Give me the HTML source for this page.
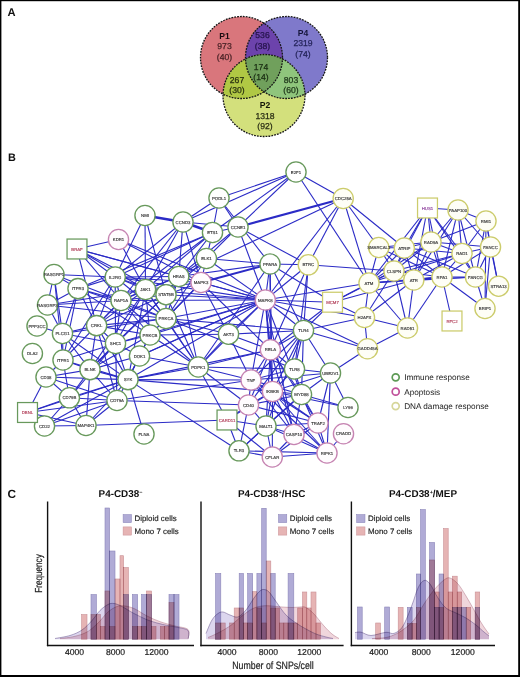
<!DOCTYPE html><html><head><meta charset="utf-8"><style>html,body{margin:0;padding:0;background:#fff}svg{display:block}text{font-family:"Liberation Sans",sans-serif;text-rendering:geometricPrecision}</style></head><body>
<svg width="520" height="677" viewBox="0 0 520 677">
<rect x="0" y="0" width="520" height="677" fill="#fff"/>
<defs>
<clipPath id="c1"><circle cx="241.5" cy="57.5" r="41"/></clipPath>
<clipPath id="c4"><circle cx="286.5" cy="57.5" r="41"/></clipPath>
<clipPath id="c2"><circle cx="264" cy="95.5" r="41"/></clipPath>
</defs>
<circle cx="241.5" cy="57.5" r="41" fill="#d9767c"/>
<circle cx="286.5" cy="57.5" r="41" fill="#7f79cb"/>
<circle cx="264" cy="95.5" r="41" fill="#d3e07c"/>
<g clip-path="url(#c1)"><circle cx="286.5" cy="57.5" r="41" fill="#6c43ac"/></g>
<g clip-path="url(#c1)"><circle cx="264" cy="95.5" r="41" fill="#b0c844"/></g>
<g clip-path="url(#c4)"><circle cx="264" cy="95.5" r="41" fill="#8fc57c"/></g>
<g clip-path="url(#c1)"><g clip-path="url(#c4)"><circle cx="264" cy="95.5" r="41" fill="#70a05c"/></g></g>
<circle cx="241.5" cy="57.5" r="41" fill="none" stroke="#161616" stroke-width="1.3" stroke-dasharray="1.8 1.1"/>
<circle cx="286.5" cy="57.5" r="41" fill="none" stroke="#161616" stroke-width="1.3" stroke-dasharray="1.8 1.1"/>
<circle cx="264" cy="95.5" r="41" fill="none" stroke="#161616" stroke-width="1.3" stroke-dasharray="1.8 1.1"/>
<text x="224.5" y="39" font-size="8.6" text-anchor="middle" fill="#1a0c10" font-weight="bold">P1</text>
<text x="224.5" y="49" font-size="8.6" text-anchor="middle" fill="#4a2226" stroke="#4a2226" stroke-width="0.25">973</text>
<text x="224.5" y="59.5" font-size="8.6" text-anchor="middle" fill="#4a2226" stroke="#4a2226" stroke-width="0.25">(40)</text>
<text x="303" y="36" font-size="8.6" text-anchor="middle" fill="#14143a" font-weight="bold">P4</text>
<text x="303" y="46" font-size="8.6" text-anchor="middle" fill="#24245a" stroke="#24245a" stroke-width="0.25">2319</text>
<text x="303" y="56.5" font-size="8.6" text-anchor="middle" fill="#24245a" stroke="#24245a" stroke-width="0.25">(74)</text>
<text x="262.5" y="38" font-size="8.6" text-anchor="middle" fill="#24124a" stroke="#24124a" stroke-width="0.25">536</text>
<text x="262.5" y="48.5" font-size="8.6" text-anchor="middle" fill="#24124a" stroke="#24124a" stroke-width="0.25">(38)</text>
<text x="261" y="69.5" font-size="8.6" text-anchor="middle" fill="#1c3014" stroke="#1c3014" stroke-width="0.25">174</text>
<text x="261" y="80" font-size="8.6" text-anchor="middle" fill="#1c3014" stroke="#1c3014" stroke-width="0.25">(14)</text>
<text x="237" y="82.5" font-size="8.6" text-anchor="middle" fill="#283010" stroke="#283010" stroke-width="0.25">267</text>
<text x="237" y="93" font-size="8.6" text-anchor="middle" fill="#283010" stroke="#283010" stroke-width="0.25">(30)</text>
<text x="291" y="82.5" font-size="8.6" text-anchor="middle" fill="#1c3418" stroke="#1c3418" stroke-width="0.25">803</text>
<text x="291" y="93" font-size="8.6" text-anchor="middle" fill="#1c3418" stroke="#1c3418" stroke-width="0.25">(60)</text>
<text x="265" y="107.5" font-size="8.6" text-anchor="middle" fill="#141808" font-weight="bold">P2</text>
<text x="265" y="118.5" font-size="8.6" text-anchor="middle" fill="#2a2e14" stroke="#2a2e14" stroke-width="0.25">1318</text>
<text x="265" y="129" font-size="8.6" text-anchor="middle" fill="#2a2e14" stroke="#2a2e14" stroke-width="0.25">(92)</text>
<text x="7.5" y="15.7" font-size="11.2" font-weight="bold" fill="#111">A</text>
<text x="7.9" y="160.8" font-size="10.9" font-weight="bold" fill="#111">B</text>
<text x="7.6" y="497.5" font-size="11.8" font-weight="bold" fill="#111">C</text>
<g stroke="#2b2bc6" stroke-width="1.1" stroke-linecap="butt" fill="none">
<line x1="77" y1="249" x2="118.5" y2="239.5"/>
<line x1="77" y1="249" x2="178.75" y2="276.5"/>
<line x1="77" y1="249" x2="201" y2="282.5"/>
<line x1="77" y1="249" x2="115.2" y2="277"/>
<line x1="77" y1="249" x2="145.5" y2="289.5"/>
<line x1="77" y1="249" x2="166" y2="294.7"/>
<line x1="77" y1="249" x2="96.6" y2="325.6"/>
<line x1="77" y1="249" x2="121" y2="300.5"/>
<line x1="118.5" y1="239.5" x2="201" y2="282.5"/>
<line x1="118.5" y1="239.5" x2="265.3" y2="300"/>
<line x1="118.5" y1="239.5" x2="145.5" y2="289.5"/>
<line x1="145" y1="215.5" x2="183" y2="222" stroke-width="2.4"/>
<line x1="145" y1="215.5" x2="115.2" y2="277"/>
<line x1="145" y1="215.5" x2="145.5" y2="289.5"/>
<line x1="145" y1="215.5" x2="166" y2="294.7"/>
<line x1="183" y1="222" x2="212.5" y2="232.5" stroke-width="2.4"/>
<line x1="183" y1="222" x2="296" y2="172"/>
<line x1="183" y1="222" x2="121" y2="300.5"/>
<line x1="183" y1="222" x2="145.5" y2="289.5"/>
<line x1="183" y1="222" x2="178.75" y2="276.5"/>
<line x1="183" y1="222" x2="201" y2="282.5"/>
<line x1="183" y1="222" x2="238" y2="227"/>
<line x1="183" y1="222" x2="115.2" y2="277"/>
<line x1="219" y1="198" x2="296" y2="172"/>
<line x1="219" y1="198" x2="183" y2="222"/>
<line x1="219" y1="198" x2="212.5" y2="232.5"/>
<line x1="219" y1="198" x2="238" y2="227"/>
<line x1="219" y1="198" x2="270" y2="264"/>
<line x1="212.5" y1="232.5" x2="238" y2="227"/>
<line x1="212.5" y1="232.5" x2="115.2" y2="277"/>
<line x1="212.5" y1="232.5" x2="78" y2="288.6"/>
<line x1="212.5" y1="232.5" x2="145.5" y2="289.5"/>
<line x1="212.5" y1="232.5" x2="121" y2="300.5"/>
<line x1="212.5" y1="232.5" x2="178.75" y2="276.5"/>
<line x1="212.5" y1="232.5" x2="206.4" y2="258.5"/>
<line x1="212.5" y1="232.5" x2="296" y2="172"/>
<line x1="238" y1="227" x2="296" y2="172"/>
<line x1="238" y1="227" x2="343.2" y2="198.5" stroke-width="2.2"/>
<line x1="238" y1="227" x2="308.3" y2="264.8"/>
<line x1="238" y1="227" x2="265.3" y2="300"/>
<line x1="238" y1="227" x2="206.4" y2="258.5"/>
<line x1="238" y1="227" x2="178.75" y2="276.5"/>
<line x1="296" y1="172" x2="343.2" y2="198.5"/>
<line x1="296" y1="172" x2="369" y2="283"/>
<line x1="343.2" y1="198.5" x2="178.75" y2="276.5"/>
<line x1="343.2" y1="198.5" x2="308.3" y2="264.8"/>
<line x1="343.2" y1="198.5" x2="265.3" y2="300"/>
<line x1="343.2" y1="198.5" x2="369" y2="283"/>
<line x1="343.2" y1="198.5" x2="404.3" y2="248"/>
<line x1="343.2" y1="198.5" x2="378.75" y2="247.5"/>
<line x1="206.4" y1="258.5" x2="201" y2="282.5"/>
<line x1="206.4" y1="258.5" x2="270" y2="264"/>
<line x1="206.4" y1="258.5" x2="265.3" y2="300"/>
<line x1="206.4" y1="258.5" x2="178.75" y2="276.5"/>
<line x1="206.4" y1="258.5" x2="166" y2="294.7"/>
<line x1="201" y1="282.5" x2="270" y2="264" stroke-width="2.0"/>
<line x1="201" y1="282.5" x2="265.3" y2="300"/>
<line x1="201" y1="282.5" x2="270.4" y2="349.8"/>
<line x1="201" y1="282.5" x2="228.5" y2="334.2"/>
<line x1="201" y1="282.5" x2="178.75" y2="276.5"/>
<line x1="201" y1="282.5" x2="166" y2="294.7"/>
<line x1="201" y1="282.5" x2="145.5" y2="289.5"/>
<line x1="201" y1="282.5" x2="115.2" y2="277"/>
<line x1="201" y1="282.5" x2="166" y2="318.5"/>
<line x1="178.75" y1="276.5" x2="166" y2="294.7"/>
<line x1="178.75" y1="276.5" x2="145.5" y2="289.5"/>
<line x1="178.75" y1="276.5" x2="115.2" y2="277"/>
<line x1="178.75" y1="276.5" x2="121" y2="300.5"/>
<line x1="178.75" y1="276.5" x2="265.3" y2="300"/>
<line x1="178.75" y1="276.5" x2="166" y2="318.5"/>
<line x1="178.75" y1="276.5" x2="270" y2="264"/>
<line x1="265.3" y1="300" x2="115.2" y2="277"/>
<line x1="265.3" y1="300" x2="145.5" y2="289.5"/>
<line x1="265.3" y1="300" x2="121" y2="300.5"/>
<line x1="265.3" y1="300" x2="166" y2="318.5"/>
<line x1="265.3" y1="300" x2="115.5" y2="343.5"/>
<line x1="265.3" y1="300" x2="139.5" y2="356"/>
<line x1="265.3" y1="300" x2="198.3" y2="367"/>
<line x1="265.3" y1="300" x2="251" y2="380"/>
<line x1="265.3" y1="300" x2="270.4" y2="349.8"/>
<line x1="265.3" y1="300" x2="272.5" y2="391.5"/>
<line x1="265.3" y1="300" x2="294" y2="434.5"/>
<line x1="265.3" y1="300" x2="301.5" y2="394.5"/>
<line x1="265.3" y1="300" x2="303.5" y2="330.5"/>
<line x1="265.3" y1="300" x2="367.5" y2="348.75"/>
<line x1="265.3" y1="300" x2="364.5" y2="317.5"/>
<line x1="265.3" y1="300" x2="369" y2="283"/>
<line x1="265.3" y1="300" x2="308.3" y2="264.8"/>
<line x1="265.3" y1="300" x2="270" y2="264"/>
<line x1="265.3" y1="300" x2="332.5" y2="302.2"/>
<line x1="265.3" y1="300" x2="166" y2="294.7"/>
<line x1="115.2" y1="277" x2="54" y2="274.5"/>
<line x1="115.2" y1="277" x2="78" y2="288.6"/>
<line x1="115.2" y1="277" x2="121" y2="300.5"/>
<line x1="115.2" y1="277" x2="145.5" y2="289.5"/>
<line x1="115.2" y1="277" x2="166" y2="294.7"/>
<line x1="115.2" y1="277" x2="166" y2="318.5"/>
<line x1="115.2" y1="277" x2="63" y2="360"/>
<line x1="115.2" y1="277" x2="96.6" y2="325.6"/>
<line x1="121" y1="300.5" x2="78" y2="288.6"/>
<line x1="121" y1="300.5" x2="54" y2="274.5"/>
<line x1="121" y1="300.5" x2="47.5" y2="305"/>
<line x1="121" y1="300.5" x2="96.6" y2="325.6"/>
<line x1="121" y1="300.5" x2="166" y2="294.7"/>
<line x1="121" y1="300.5" x2="166" y2="318.5"/>
<line x1="121" y1="300.5" x2="145.5" y2="289.5"/>
<line x1="121" y1="300.5" x2="115.5" y2="343.5"/>
<line x1="145.5" y1="289.5" x2="166" y2="294.7"/>
<line x1="145.5" y1="289.5" x2="166" y2="318.5"/>
<line x1="145.5" y1="289.5" x2="128" y2="379.6"/>
<line x1="145.5" y1="289.5" x2="115.5" y2="343.5"/>
<line x1="145.5" y1="289.5" x2="96.6" y2="325.6"/>
<line x1="145.5" y1="289.5" x2="90" y2="369.6"/>
<line x1="54" y1="274.5" x2="78" y2="288.6"/>
<line x1="54" y1="274.5" x2="47.5" y2="305"/>
<line x1="54" y1="274.5" x2="62.5" y2="333.5"/>
<line x1="54" y1="274.5" x2="63" y2="360"/>
<line x1="78" y1="288.6" x2="47.5" y2="305"/>
<line x1="78" y1="288.6" x2="62.5" y2="333.5"/>
<line x1="78" y1="288.6" x2="63" y2="360"/>
<line x1="78" y1="288.6" x2="96.6" y2="325.6"/>
<line x1="78" y1="288.6" x2="150" y2="335"/>
<line x1="47.5" y1="305" x2="62.5" y2="333.5"/>
<line x1="37" y1="326" x2="62.5" y2="333.5"/>
<line x1="47.5" y1="305" x2="166" y2="318.5"/>
<line x1="47.5" y1="305" x2="145.5" y2="289.5"/>
<line x1="62.5" y1="333.5" x2="96.6" y2="325.6"/>
<line x1="62.5" y1="333.5" x2="115.5" y2="343.5"/>
<line x1="62.5" y1="333.5" x2="90" y2="369.6"/>
<line x1="62.5" y1="333.5" x2="128" y2="379.6"/>
<line x1="62.5" y1="333.5" x2="63" y2="360"/>
<line x1="62.5" y1="333.5" x2="166" y2="318.5"/>
<line x1="96.6" y1="325.6" x2="121" y2="300.5"/>
<line x1="96.6" y1="325.6" x2="166" y2="318.5"/>
<line x1="96.6" y1="325.6" x2="150" y2="335"/>
<line x1="96.6" y1="325.6" x2="115.5" y2="343.5"/>
<line x1="96.6" y1="325.6" x2="90" y2="369.6"/>
<line x1="96.6" y1="325.6" x2="128" y2="379.6"/>
<line x1="96.6" y1="325.6" x2="63" y2="360"/>
<line x1="96.6" y1="325.6" x2="117" y2="400.5"/>
<line x1="115.5" y1="343.5" x2="166" y2="294.7"/>
<line x1="115.5" y1="343.5" x2="63" y2="360"/>
<line x1="115.5" y1="343.5" x2="90" y2="369.6"/>
<line x1="115.5" y1="343.5" x2="128" y2="379.6"/>
<line x1="115.5" y1="343.5" x2="117" y2="400.5"/>
<line x1="115.5" y1="343.5" x2="150" y2="335"/>
<line x1="115.5" y1="343.5" x2="115.2" y2="277"/>
<line x1="63" y1="360" x2="90" y2="369.6"/>
<line x1="63" y1="360" x2="128" y2="379.6"/>
<line x1="63" y1="360" x2="46" y2="377"/>
<line x1="63" y1="360" x2="69.4" y2="397.8"/>
<line x1="90" y1="369.6" x2="128" y2="379.6"/>
<line x1="90" y1="369.6" x2="117" y2="400.5"/>
<line x1="90" y1="369.6" x2="69.4" y2="397.8"/>
<line x1="90" y1="369.6" x2="86" y2="425.5"/>
<line x1="90" y1="369.6" x2="139.5" y2="356"/>
<line x1="90" y1="369.6" x2="150" y2="335"/>
<line x1="166" y1="294.7" x2="166" y2="318.5"/>
<line x1="166" y1="294.7" x2="178.75" y2="276.5"/>
<line x1="166" y1="294.7" x2="90" y2="369.6"/>
<line x1="166" y1="294.7" x2="96.6" y2="325.6"/>
<line x1="166" y1="318.5" x2="201" y2="282.5"/>
<line x1="166" y1="318.5" x2="206.4" y2="258.5"/>
<line x1="166" y1="318.5" x2="303.5" y2="330.5"/>
<line x1="166" y1="318.5" x2="294.5" y2="369"/>
<line x1="166" y1="318.5" x2="198.3" y2="367"/>
<line x1="166" y1="318.5" x2="150" y2="335"/>
<line x1="166" y1="318.5" x2="78" y2="288.6"/>
<line x1="166" y1="318.5" x2="228.5" y2="334.2"/>
<line x1="150" y1="335" x2="265.3" y2="300"/>
<line x1="150" y1="335" x2="228.5" y2="334.2"/>
<line x1="150" y1="335" x2="198.3" y2="367"/>
<line x1="150" y1="335" x2="139.5" y2="356"/>
<line x1="150" y1="335" x2="128" y2="379.6"/>
<line x1="150" y1="335" x2="145.5" y2="289.5"/>
<line x1="150" y1="335" x2="121" y2="300.5"/>
<line x1="139.5" y1="356" x2="265.3" y2="300"/>
<line x1="139.5" y1="356" x2="198.3" y2="367"/>
<line x1="139.5" y1="356" x2="115.5" y2="343.5"/>
<line x1="139.5" y1="356" x2="128" y2="379.6"/>
<line x1="46" y1="377" x2="128" y2="379.6"/>
<line x1="46" y1="377" x2="90" y2="369.6"/>
<line x1="46" y1="377" x2="69.4" y2="397.8"/>
<line x1="46" y1="377" x2="27.5" y2="412.5"/>
<line x1="46" y1="377" x2="117" y2="400.5"/>
<line x1="69.4" y1="397.8" x2="128" y2="379.6"/>
<line x1="69.4" y1="397.8" x2="117" y2="400.5"/>
<line x1="69.4" y1="397.8" x2="27.5" y2="412.5"/>
<line x1="69.4" y1="397.8" x2="44.5" y2="426"/>
<line x1="69.4" y1="397.8" x2="86" y2="425.5"/>
<line x1="69.4" y1="397.8" x2="115.5" y2="343.5"/>
<line x1="117" y1="400.5" x2="128" y2="379.6"/>
<line x1="117" y1="400.5" x2="44.5" y2="426"/>
<line x1="117" y1="400.5" x2="27.5" y2="412.5"/>
<line x1="117" y1="400.5" x2="86" y2="425.5"/>
<line x1="117" y1="400.5" x2="248.5" y2="405"/>
<line x1="117" y1="400.5" x2="251" y2="380"/>
<line x1="27.5" y1="412.5" x2="128" y2="379.6"/>
<line x1="27.5" y1="412.5" x2="86" y2="425.5"/>
<line x1="27.5" y1="412.5" x2="44.5" y2="426"/>
<line x1="44.5" y1="426" x2="128" y2="379.6"/>
<line x1="44.5" y1="426" x2="86" y2="425.5"/>
<line x1="86" y1="425.5" x2="227" y2="420"/>
<line x1="86" y1="425.5" x2="128" y2="379.6"/>
<line x1="128" y1="379.6" x2="144" y2="434"/>
<line x1="128" y1="379.6" x2="265.3" y2="300"/>
<line x1="128" y1="379.6" x2="198.3" y2="367"/>
<line x1="128" y1="379.6" x2="270.4" y2="349.8"/>
<line x1="128" y1="379.6" x2="251" y2="380"/>
<line x1="128" y1="379.6" x2="272.5" y2="391.5"/>
<line x1="128" y1="379.6" x2="239" y2="450.8"/>
<line x1="128" y1="379.6" x2="139.5" y2="356"/>
<line x1="198.3" y1="367" x2="228.5" y2="334.2"/>
<line x1="198.3" y1="367" x2="270.4" y2="349.8"/>
<line x1="198.3" y1="367" x2="251" y2="380"/>
<line x1="198.3" y1="367" x2="166" y2="294.7"/>
<line x1="198.3" y1="367" x2="145.5" y2="289.5"/>
<line x1="198.3" y1="367" x2="121" y2="300.5"/>
<line x1="198.3" y1="367" x2="178.75" y2="276.5"/>
<line x1="198.3" y1="367" x2="270" y2="264"/>
<line x1="198.3" y1="367" x2="248.5" y2="405"/>
<line x1="198.3" y1="367" x2="294.5" y2="369"/>
<line x1="228.5" y1="334.2" x2="270.4" y2="349.8"/>
<line x1="228.5" y1="334.2" x2="251" y2="380"/>
<line x1="228.5" y1="334.2" x2="265.3" y2="300"/>
<line x1="228.5" y1="334.2" x2="303.5" y2="330.5"/>
<line x1="270.4" y1="349.8" x2="265.3" y2="300"/>
<line x1="270.4" y1="349.8" x2="303.5" y2="330.5"/>
<line x1="270.4" y1="349.8" x2="251" y2="380"/>
<line x1="270.4" y1="349.8" x2="272.5" y2="391.5"/>
<line x1="270.4" y1="349.8" x2="294.5" y2="369"/>
<line x1="270.4" y1="349.8" x2="301.5" y2="394.5"/>
<line x1="270.4" y1="349.8" x2="248.5" y2="405"/>
<line x1="270.4" y1="349.8" x2="266" y2="426"/>
<line x1="270.4" y1="349.8" x2="318" y2="423"/>
<line x1="270.4" y1="349.8" x2="294" y2="434.5"/>
<line x1="270.4" y1="349.8" x2="332.5" y2="302.2"/>
<line x1="270.4" y1="349.8" x2="308.3" y2="264.8"/>
<line x1="270.4" y1="349.8" x2="270" y2="264"/>
<line x1="303.5" y1="330.5" x2="272.5" y2="391.5"/>
<line x1="303.5" y1="330.5" x2="251" y2="380"/>
<line x1="303.5" y1="330.5" x2="248.5" y2="405"/>
<line x1="303.5" y1="330.5" x2="266" y2="426"/>
<line x1="303.5" y1="330.5" x2="294.5" y2="369"/>
<line x1="303.5" y1="330.5" x2="301.5" y2="394.5"/>
<line x1="303.5" y1="330.5" x2="330.5" y2="373"/>
<line x1="303.5" y1="330.5" x2="364.5" y2="317.5"/>
<line x1="303.5" y1="330.5" x2="367.5" y2="348.75"/>
<line x1="303.5" y1="330.5" x2="270" y2="264"/>
<line x1="251" y1="380" x2="272.5" y2="391.5"/>
<line x1="251" y1="380" x2="301.5" y2="394.5"/>
<line x1="251" y1="380" x2="248.5" y2="405"/>
<line x1="251" y1="380" x2="294.5" y2="369"/>
<line x1="251" y1="380" x2="318" y2="423"/>
<line x1="251" y1="380" x2="294" y2="434.5"/>
<line x1="251" y1="380" x2="327" y2="453"/>
<line x1="272.5" y1="391.5" x2="301.5" y2="394.5"/>
<line x1="272.5" y1="391.5" x2="248.5" y2="405"/>
<line x1="272.5" y1="391.5" x2="266" y2="426"/>
<line x1="272.5" y1="391.5" x2="318" y2="423"/>
<line x1="272.5" y1="391.5" x2="294" y2="434.5"/>
<line x1="272.5" y1="391.5" x2="272.3" y2="457"/>
<line x1="272.5" y1="391.5" x2="327" y2="453"/>
<line x1="272.5" y1="391.5" x2="348" y2="407.5"/>
<line x1="272.5" y1="391.5" x2="294.5" y2="369"/>
<line x1="272.5" y1="391.5" x2="227" y2="420"/>
<line x1="272.5" y1="391.5" x2="330.5" y2="373"/>
<line x1="294.5" y1="369" x2="330.5" y2="373"/>
<line x1="294.5" y1="369" x2="301.5" y2="394.5"/>
<line x1="301.5" y1="394.5" x2="330.5" y2="373"/>
<line x1="301.5" y1="394.5" x2="348" y2="407.5"/>
<line x1="301.5" y1="394.5" x2="318" y2="423"/>
<line x1="301.5" y1="394.5" x2="294" y2="434.5"/>
<line x1="301.5" y1="394.5" x2="327" y2="453"/>
<line x1="301.5" y1="394.5" x2="266" y2="426"/>
<line x1="301.5" y1="394.5" x2="248.5" y2="405"/>
<line x1="330.5" y1="373" x2="367.5" y2="348.75"/>
<line x1="330.5" y1="373" x2="327" y2="453"/>
<line x1="330.5" y1="373" x2="348" y2="407.5"/>
<line x1="330.5" y1="373" x2="251" y2="380"/>
<line x1="330.5" y1="373" x2="318" y2="423"/>
<line x1="248.5" y1="405" x2="227" y2="420"/>
<line x1="248.5" y1="405" x2="266" y2="426"/>
<line x1="248.5" y1="405" x2="239" y2="450.8"/>
<line x1="248.5" y1="405" x2="318" y2="423"/>
<line x1="227" y1="420" x2="266" y2="426"/>
<line x1="227" y1="420" x2="239" y2="450.8"/>
<line x1="227" y1="420" x2="272.3" y2="457"/>
<line x1="227" y1="420" x2="198.3" y2="367"/>
<line x1="266" y1="426" x2="318" y2="423"/>
<line x1="266" y1="426" x2="294" y2="434.5"/>
<line x1="266" y1="426" x2="272.3" y2="457"/>
<line x1="266" y1="426" x2="239" y2="450.8"/>
<line x1="266" y1="426" x2="327" y2="453"/>
<line x1="239" y1="450.8" x2="272.3" y2="457"/>
<line x1="239" y1="450.8" x2="327" y2="453"/>
<line x1="239" y1="450.8" x2="301.5" y2="394.5"/>
<line x1="272.3" y1="457" x2="294" y2="434.5"/>
<line x1="272.3" y1="457" x2="318" y2="423"/>
<line x1="272.3" y1="457" x2="327" y2="453"/>
<line x1="294" y1="434.5" x2="318" y2="423"/>
<line x1="294" y1="434.5" x2="327" y2="453"/>
<line x1="318" y1="423" x2="327" y2="453"/>
<line x1="327" y1="453" x2="343.5" y2="433.75"/>
<line x1="270" y1="264" x2="308.3" y2="264.8"/>
<line x1="270" y1="264" x2="332.5" y2="302.2"/>
<line x1="270" y1="264" x2="272.5" y2="391.5"/>
<line x1="308.3" y1="264.8" x2="394" y2="271"/>
<line x1="308.3" y1="264.8" x2="294.5" y2="369"/>
<line x1="303.5" y1="330.5" x2="332.5" y2="302.2"/>
<line x1="303.5" y1="330.5" x2="308.3" y2="264.8"/>
<line x1="332.5" y1="302.2" x2="369" y2="283"/>
<line x1="332.5" y1="302.2" x2="394" y2="271"/>
<line x1="332.5" y1="302.2" x2="413.8" y2="280"/>
<line x1="332.5" y1="302.2" x2="364.5" y2="317.5"/>
<line x1="367.5" y1="348.75" x2="407.5" y2="328"/>
<line x1="367.5" y1="348.75" x2="364.5" y2="317.5"/>
<line x1="364.5" y1="317.5" x2="369" y2="283"/>
<line x1="364.5" y1="317.5" x2="413.8" y2="280"/>
<line x1="364.5" y1="317.5" x2="407.5" y2="328"/>
<line x1="364.5" y1="317.5" x2="394" y2="271"/>
<line x1="407.5" y1="328" x2="369" y2="283"/>
<line x1="407.5" y1="328" x2="413.8" y2="280"/>
<line x1="407.5" y1="328" x2="442" y2="277"/>
<line x1="407.5" y1="328" x2="394" y2="271"/>
<line x1="369" y1="283" x2="394" y2="271"/>
<line x1="369" y1="283" x2="413.8" y2="280"/>
<line x1="369" y1="283" x2="442" y2="277"/>
<line x1="369" y1="283" x2="378.75" y2="247.5"/>
<line x1="369" y1="283" x2="404.3" y2="248"/>
<line x1="369" y1="283" x2="431" y2="242"/>
<line x1="369" y1="283" x2="475.5" y2="277"/>
<line x1="369" y1="283" x2="462" y2="253.5"/>
<line x1="369" y1="283" x2="427.5" y2="208"/>
<line x1="378.75" y1="247.5" x2="404.3" y2="248"/>
<line x1="378.75" y1="247.5" x2="394" y2="271"/>
<line x1="378.75" y1="247.5" x2="413.8" y2="280"/>
<line x1="378.75" y1="247.5" x2="442" y2="277"/>
<line x1="378.75" y1="247.5" x2="431" y2="242"/>
<line x1="404.3" y1="248" x2="394" y2="271"/>
<line x1="404.3" y1="248" x2="413.8" y2="280"/>
<line x1="404.3" y1="248" x2="442" y2="277"/>
<line x1="404.3" y1="248" x2="431" y2="242"/>
<line x1="404.3" y1="248" x2="462" y2="253.5"/>
<line x1="404.3" y1="248" x2="427.5" y2="208"/>
<line x1="404.3" y1="248" x2="475.5" y2="277"/>
<line x1="394" y1="271" x2="413.8" y2="280"/>
<line x1="394" y1="271" x2="442" y2="277"/>
<line x1="394" y1="271" x2="431" y2="242"/>
<line x1="394" y1="271" x2="462" y2="253.5"/>
<line x1="394" y1="271" x2="427.5" y2="208"/>
<line x1="413.8" y1="280" x2="442" y2="277" stroke-width="2.0"/>
<line x1="413.8" y1="280" x2="431" y2="242"/>
<line x1="413.8" y1="280" x2="462" y2="253.5"/>
<line x1="413.8" y1="280" x2="427.5" y2="208"/>
<line x1="413.8" y1="280" x2="475.5" y2="277"/>
<line x1="413.8" y1="280" x2="458" y2="210"/>
<line x1="427.5" y1="208" x2="458" y2="210"/>
<line x1="427.5" y1="208" x2="431" y2="242"/>
<line x1="427.5" y1="208" x2="462" y2="253.5"/>
<line x1="427.5" y1="208" x2="442" y2="277"/>
<line x1="427.5" y1="208" x2="475.5" y2="277"/>
<line x1="458" y1="210" x2="486" y2="221"/>
<line x1="458" y1="210" x2="462" y2="253.5"/>
<line x1="458" y1="210" x2="490.5" y2="247"/>
<line x1="458" y1="210" x2="475.5" y2="277"/>
<line x1="458" y1="210" x2="431" y2="242"/>
<line x1="458" y1="210" x2="442" y2="277"/>
<line x1="486" y1="221" x2="490.5" y2="247"/>
<line x1="486" y1="221" x2="462" y2="253.5"/>
<line x1="486" y1="221" x2="475.5" y2="277"/>
<line x1="486" y1="221" x2="498.6" y2="286.2"/>
<line x1="486" y1="221" x2="431" y2="242"/>
<line x1="490.5" y1="247" x2="462" y2="253.5"/>
<line x1="490.5" y1="247" x2="475.5" y2="277"/>
<line x1="490.5" y1="247" x2="498.6" y2="286.2"/>
<line x1="490.5" y1="247" x2="485" y2="308.5"/>
<line x1="490.5" y1="247" x2="431" y2="242"/>
<line x1="490.5" y1="247" x2="442" y2="277"/>
<line x1="462" y1="253.5" x2="431" y2="242"/>
<line x1="462" y1="253.5" x2="442" y2="277"/>
<line x1="462" y1="253.5" x2="475.5" y2="277"/>
<line x1="431" y1="242" x2="442" y2="277"/>
<line x1="442" y1="277" x2="475.5" y2="277"/>
<line x1="442" y1="277" x2="452" y2="321"/>
<line x1="442" y1="277" x2="485" y2="308.5"/>
<line x1="475.5" y1="277" x2="485" y2="308.5"/>
<line x1="486" y1="221" x2="485" y2="308.5"/>
</g>
<circle cx="145" cy="215.5" r="10.1" fill="#ffffff" stroke="#68995c" stroke-width="1.35"/>
<text x="145" y="217.1" font-size="4.3" text-anchor="middle" fill="#303030" stroke="#303030" stroke-width="0.18" stroke-opacity="0.7">NMI</text>
<circle cx="183" cy="222" r="10.1" fill="#ffffff" stroke="#68995c" stroke-width="1.35"/>
<text x="183" y="223.6" font-size="4.3" text-anchor="middle" fill="#303030" stroke="#303030" stroke-width="0.18" stroke-opacity="0.7">CCND3</text>
<circle cx="219" cy="198" r="10.1" fill="#ffffff" stroke="#68995c" stroke-width="1.35"/>
<text x="219" y="199.6" font-size="4.3" text-anchor="middle" fill="#303030" stroke="#303030" stroke-width="0.18" stroke-opacity="0.7">PODL1</text>
<circle cx="212.5" cy="232.5" r="10.1" fill="#ffffff" stroke="#68995c" stroke-width="1.35"/>
<text x="212.5" y="234.1" font-size="4.3" text-anchor="middle" fill="#303030" stroke="#303030" stroke-width="0.18" stroke-opacity="0.7">ETS1</text>
<circle cx="238" cy="227" r="10.1" fill="#ffffff" stroke="#68995c" stroke-width="1.35"/>
<text x="238" y="228.6" font-size="4.3" text-anchor="middle" fill="#303030" stroke="#303030" stroke-width="0.18" stroke-opacity="0.7">CCNE1</text>
<circle cx="296" cy="172" r="10.1" fill="#ffffff" stroke="#68995c" stroke-width="1.35"/>
<text x="296" y="173.6" font-size="4.3" text-anchor="middle" fill="#303030" stroke="#303030" stroke-width="0.18" stroke-opacity="0.7">E2F1</text>
<circle cx="206.4" cy="258.5" r="10.1" fill="#ffffff" stroke="#68995c" stroke-width="1.35"/>
<text x="206.4" y="260.1" font-size="4.3" text-anchor="middle" fill="#303030" stroke="#303030" stroke-width="0.18" stroke-opacity="0.7">ELK1</text>
<circle cx="115.2" cy="277" r="10.1" fill="#ffffff" stroke="#68995c" stroke-width="1.35"/>
<text x="115.2" y="278.6" font-size="4.3" text-anchor="middle" fill="#303030" stroke="#303030" stroke-width="0.18" stroke-opacity="0.7">IL2RG</text>
<circle cx="54" cy="274.5" r="10.1" fill="#ffffff" stroke="#68995c" stroke-width="1.35"/>
<text x="54" y="276.1" font-size="4.3" text-anchor="middle" fill="#303030" stroke="#303030" stroke-width="0.18" stroke-opacity="0.7">RASGRP1</text>
<circle cx="78" cy="288.6" r="10.1" fill="#ffffff" stroke="#68995c" stroke-width="1.35"/>
<text x="78" y="290.20000000000005" font-size="4.3" text-anchor="middle" fill="#303030" stroke="#303030" stroke-width="0.18" stroke-opacity="0.7">ITPR3</text>
<circle cx="47.5" cy="305" r="10.1" fill="#ffffff" stroke="#68995c" stroke-width="1.35"/>
<text x="47.5" y="306.6" font-size="4.3" text-anchor="middle" fill="#303030" stroke="#303030" stroke-width="0.18" stroke-opacity="0.7">RASGRP3</text>
<circle cx="121" cy="300.5" r="10.1" fill="#ffffff" stroke="#68995c" stroke-width="1.35"/>
<text x="121" y="302.1" font-size="4.3" text-anchor="middle" fill="#303030" stroke="#303030" stroke-width="0.18" stroke-opacity="0.7">RAP1A</text>
<circle cx="145.5" cy="289.5" r="10.1" fill="#ffffff" stroke="#68995c" stroke-width="1.35"/>
<text x="145.5" y="291.1" font-size="4.3" text-anchor="middle" fill="#303030" stroke="#303030" stroke-width="0.18" stroke-opacity="0.7">JAK1</text>
<circle cx="178.75" cy="276.5" r="10.1" fill="#ffffff" stroke="#68995c" stroke-width="1.35"/>
<text x="178.75" y="278.1" font-size="4.3" text-anchor="middle" fill="#303030" stroke="#303030" stroke-width="0.18" stroke-opacity="0.7">HRAS</text>
<circle cx="166" cy="294.7" r="10.1" fill="#ffffff" stroke="#68995c" stroke-width="1.35"/>
<text x="166" y="296.3" font-size="4.3" text-anchor="middle" fill="#303030" stroke="#303030" stroke-width="0.18" stroke-opacity="0.7">STAT5B</text>
<circle cx="166" cy="318.5" r="10.1" fill="#ffffff" stroke="#68995c" stroke-width="1.35"/>
<text x="166" y="320.1" font-size="4.3" text-anchor="middle" fill="#303030" stroke="#303030" stroke-width="0.18" stroke-opacity="0.7">PRKCA</text>
<circle cx="37" cy="326" r="10.1" fill="#ffffff" stroke="#68995c" stroke-width="1.35"/>
<text x="37" y="327.6" font-size="4.3" text-anchor="middle" fill="#303030" stroke="#303030" stroke-width="0.18" stroke-opacity="0.7">PPP3CC</text>
<circle cx="62.5" cy="333.5" r="10.1" fill="#ffffff" stroke="#68995c" stroke-width="1.35"/>
<text x="62.5" y="335.1" font-size="4.3" text-anchor="middle" fill="#303030" stroke="#303030" stroke-width="0.18" stroke-opacity="0.7">PLCG1</text>
<circle cx="96.6" cy="325.6" r="10.1" fill="#ffffff" stroke="#68995c" stroke-width="1.35"/>
<text x="96.6" y="327.20000000000005" font-size="4.3" text-anchor="middle" fill="#303030" stroke="#303030" stroke-width="0.18" stroke-opacity="0.7">CRKL</text>
<circle cx="115.5" cy="343.5" r="10.1" fill="#ffffff" stroke="#68995c" stroke-width="1.35"/>
<text x="115.5" y="345.1" font-size="4.3" text-anchor="middle" fill="#303030" stroke="#303030" stroke-width="0.18" stroke-opacity="0.7">SHC1</text>
<circle cx="150" cy="335" r="10.1" fill="#ffffff" stroke="#68995c" stroke-width="1.35"/>
<text x="150" y="336.6" font-size="4.3" text-anchor="middle" fill="#303030" stroke="#303030" stroke-width="0.18" stroke-opacity="0.7">PRKCB</text>
<circle cx="32.4" cy="353.5" r="10.1" fill="#ffffff" stroke="#68995c" stroke-width="1.35"/>
<text x="32.4" y="355.1" font-size="4.3" text-anchor="middle" fill="#303030" stroke="#303030" stroke-width="0.18" stroke-opacity="0.7">DLA2</text>
<circle cx="63" cy="360" r="10.1" fill="#ffffff" stroke="#68995c" stroke-width="1.35"/>
<text x="63" y="361.6" font-size="4.3" text-anchor="middle" fill="#303030" stroke="#303030" stroke-width="0.18" stroke-opacity="0.7">ITPR1</text>
<circle cx="90" cy="369.6" r="10.1" fill="#ffffff" stroke="#68995c" stroke-width="1.35"/>
<text x="90" y="371.20000000000005" font-size="4.3" text-anchor="middle" fill="#303030" stroke="#303030" stroke-width="0.18" stroke-opacity="0.7">BLNK</text>
<circle cx="139.5" cy="356" r="10.1" fill="#ffffff" stroke="#68995c" stroke-width="1.35"/>
<text x="139.5" y="357.6" font-size="4.3" text-anchor="middle" fill="#303030" stroke="#303030" stroke-width="0.18" stroke-opacity="0.7">DOK1</text>
<circle cx="46" cy="377" r="10.1" fill="#ffffff" stroke="#68995c" stroke-width="1.35"/>
<text x="46" y="378.6" font-size="4.3" text-anchor="middle" fill="#303030" stroke="#303030" stroke-width="0.18" stroke-opacity="0.7">CD38</text>
<circle cx="128" cy="379.6" r="10.1" fill="#ffffff" stroke="#68995c" stroke-width="1.35"/>
<text x="128" y="381.20000000000005" font-size="4.3" text-anchor="middle" fill="#303030" stroke="#303030" stroke-width="0.18" stroke-opacity="0.7">SYK</text>
<circle cx="69.4" cy="397.8" r="10.1" fill="#ffffff" stroke="#68995c" stroke-width="1.35"/>
<text x="69.4" y="399.40000000000003" font-size="4.3" text-anchor="middle" fill="#303030" stroke="#303030" stroke-width="0.18" stroke-opacity="0.7">CD79B</text>
<circle cx="117" cy="400.5" r="10.1" fill="#ffffff" stroke="#68995c" stroke-width="1.35"/>
<text x="117" y="402.1" font-size="4.3" text-anchor="middle" fill="#303030" stroke="#303030" stroke-width="0.18" stroke-opacity="0.7">CD79A</text>
<circle cx="44.5" cy="426" r="10.1" fill="#ffffff" stroke="#68995c" stroke-width="1.35"/>
<text x="44.5" y="427.6" font-size="4.3" text-anchor="middle" fill="#303030" stroke="#303030" stroke-width="0.18" stroke-opacity="0.7">CD22</text>
<circle cx="86" cy="425.5" r="10.1" fill="#ffffff" stroke="#68995c" stroke-width="1.35"/>
<text x="86" y="427.1" font-size="4.3" text-anchor="middle" fill="#303030" stroke="#303030" stroke-width="0.18" stroke-opacity="0.7">MAP4K1</text>
<circle cx="144" cy="434" r="10.1" fill="#ffffff" stroke="#68995c" stroke-width="1.35"/>
<text x="144" y="435.6" font-size="4.3" text-anchor="middle" fill="#303030" stroke="#303030" stroke-width="0.18" stroke-opacity="0.7">FLNA</text>
<circle cx="198.3" cy="367" r="10.1" fill="#ffffff" stroke="#68995c" stroke-width="1.35"/>
<text x="198.3" y="368.6" font-size="4.3" text-anchor="middle" fill="#303030" stroke="#303030" stroke-width="0.18" stroke-opacity="0.7">PDPK1</text>
<circle cx="228.5" cy="334.2" r="10.1" fill="#ffffff" stroke="#68995c" stroke-width="1.35"/>
<text x="228.5" y="335.8" font-size="4.3" text-anchor="middle" fill="#303030" stroke="#303030" stroke-width="0.18" stroke-opacity="0.7">AKT3</text>
<circle cx="270" cy="264" r="10.1" fill="#ffffff" stroke="#68995c" stroke-width="1.35"/>
<text x="270" y="265.6" font-size="4.3" text-anchor="middle" fill="#303030" stroke="#303030" stroke-width="0.18" stroke-opacity="0.7">PPARA</text>
<circle cx="303.5" cy="330.5" r="10.1" fill="#ffffff" stroke="#68995c" stroke-width="1.35"/>
<text x="303.5" y="332.1" font-size="4.3" text-anchor="middle" fill="#303030" stroke="#303030" stroke-width="0.18" stroke-opacity="0.7">TLR4</text>
<circle cx="294.5" cy="369" r="10.1" fill="#ffffff" stroke="#68995c" stroke-width="1.35"/>
<text x="294.5" y="370.6" font-size="4.3" text-anchor="middle" fill="#303030" stroke="#303030" stroke-width="0.18" stroke-opacity="0.7">TLR8</text>
<circle cx="330.5" cy="373" r="10.1" fill="#ffffff" stroke="#68995c" stroke-width="1.35"/>
<text x="330.5" y="374.6" font-size="4.3" text-anchor="middle" fill="#303030" stroke="#303030" stroke-width="0.18" stroke-opacity="0.7">UBE2V1</text>
<circle cx="301.5" cy="394.5" r="10.1" fill="#ffffff" stroke="#68995c" stroke-width="1.35"/>
<text x="301.5" y="396.1" font-size="4.3" text-anchor="middle" fill="#303030" stroke="#303030" stroke-width="0.18" stroke-opacity="0.7">MYD88</text>
<circle cx="348" cy="407.5" r="10.1" fill="#ffffff" stroke="#68995c" stroke-width="1.35"/>
<text x="348" y="409.1" font-size="4.3" text-anchor="middle" fill="#303030" stroke="#303030" stroke-width="0.18" stroke-opacity="0.7">LY96</text>
<circle cx="266" cy="426" r="10.1" fill="#ffffff" stroke="#68995c" stroke-width="1.35"/>
<text x="266" y="427.6" font-size="4.3" text-anchor="middle" fill="#303030" stroke="#303030" stroke-width="0.18" stroke-opacity="0.7">MALT1</text>
<circle cx="239" cy="450.8" r="10.1" fill="#ffffff" stroke="#68995c" stroke-width="1.35"/>
<text x="239" y="452.40000000000003" font-size="4.3" text-anchor="middle" fill="#303030" stroke="#303030" stroke-width="0.18" stroke-opacity="0.7">TLR3</text>
<circle cx="118.5" cy="239.5" r="10.1" fill="#fffcfe" stroke="#c684b2" stroke-width="1.35"/>
<text x="118.5" y="241.1" font-size="4.3" text-anchor="middle" fill="#303030" stroke="#303030" stroke-width="0.18" stroke-opacity="0.7">KDR1</text>
<circle cx="201" cy="282.5" r="10.1" fill="#fffcfe" stroke="#c684b2" stroke-width="1.35"/>
<text x="201" y="284.1" font-size="4.3" text-anchor="middle" fill="#303030" stroke="#303030" stroke-width="0.18" stroke-opacity="0.7">MAPK3</text>
<circle cx="265.3" cy="300" r="10.1" fill="#fffcfe" stroke="#c684b2" stroke-width="1.35"/>
<text x="265.3" y="301.6" font-size="4.3" text-anchor="middle" fill="#303030" stroke="#303030" stroke-width="0.18" stroke-opacity="0.7">MAPK8</text>
<circle cx="270.4" cy="349.8" r="10.1" fill="#fffcfe" stroke="#c684b2" stroke-width="1.35"/>
<text x="270.4" y="351.40000000000003" font-size="4.3" text-anchor="middle" fill="#303030" stroke="#303030" stroke-width="0.18" stroke-opacity="0.7">RELA</text>
<circle cx="251" cy="380" r="10.1" fill="#fffcfe" stroke="#c684b2" stroke-width="1.35"/>
<text x="251" y="381.6" font-size="4.3" text-anchor="middle" fill="#303030" stroke="#303030" stroke-width="0.18" stroke-opacity="0.7">TNF</text>
<circle cx="272.5" cy="391.5" r="10.1" fill="#fffcfe" stroke="#c684b2" stroke-width="1.35"/>
<text x="272.5" y="393.1" font-size="4.3" text-anchor="middle" fill="#303030" stroke="#303030" stroke-width="0.18" stroke-opacity="0.7">IKBKB</text>
<circle cx="248.5" cy="405" r="10.1" fill="#fffcfe" stroke="#c684b2" stroke-width="1.35"/>
<text x="248.5" y="406.6" font-size="4.3" text-anchor="middle" fill="#303030" stroke="#303030" stroke-width="0.18" stroke-opacity="0.7">CD40</text>
<circle cx="318" cy="423" r="10.1" fill="#fffcfe" stroke="#c684b2" stroke-width="1.35"/>
<text x="318" y="424.6" font-size="4.3" text-anchor="middle" fill="#303030" stroke="#303030" stroke-width="0.18" stroke-opacity="0.7">TRAF2</text>
<circle cx="294" cy="434.5" r="10.1" fill="#fffcfe" stroke="#c684b2" stroke-width="1.35"/>
<text x="294" y="436.1" font-size="4.3" text-anchor="middle" fill="#303030" stroke="#303030" stroke-width="0.18" stroke-opacity="0.7">CASP10</text>
<circle cx="343.5" cy="433.75" r="10.1" fill="#fffcfe" stroke="#c684b2" stroke-width="1.35"/>
<text x="343.5" y="435.35" font-size="4.3" text-anchor="middle" fill="#303030" stroke="#303030" stroke-width="0.18" stroke-opacity="0.7">CRADD</text>
<circle cx="272.3" cy="457" r="10.1" fill="#fffcfe" stroke="#c684b2" stroke-width="1.35"/>
<text x="272.3" y="458.6" font-size="4.3" text-anchor="middle" fill="#303030" stroke="#303030" stroke-width="0.18" stroke-opacity="0.7">CFLAR</text>
<circle cx="327" cy="453" r="10.1" fill="#fffcfe" stroke="#c684b2" stroke-width="1.35"/>
<text x="327" y="454.6" font-size="4.3" text-anchor="middle" fill="#303030" stroke="#303030" stroke-width="0.18" stroke-opacity="0.7">RIPK1</text>
<circle cx="343.2" cy="198.5" r="10.1" fill="#fefef6" stroke="#cccc6c" stroke-width="1.35"/>
<text x="343.2" y="200.1" font-size="4.3" text-anchor="middle" fill="#303030" stroke="#303030" stroke-width="0.18" stroke-opacity="0.7">CDC25A</text>
<circle cx="308.3" cy="264.8" r="10.1" fill="#fefef6" stroke="#cccc6c" stroke-width="1.35"/>
<text x="308.3" y="266.40000000000003" font-size="4.3" text-anchor="middle" fill="#303030" stroke="#303030" stroke-width="0.18" stroke-opacity="0.7">BTRC</text>
<circle cx="378.75" cy="247.5" r="10.1" fill="#fefef6" stroke="#cccc6c" stroke-width="1.35"/>
<text x="378.75" y="249.1" font-size="4.3" text-anchor="middle" fill="#303030" stroke="#303030" stroke-width="0.18" stroke-opacity="0.7">SMARCAL1</text>
<circle cx="404.3" cy="248" r="10.1" fill="#fefef6" stroke="#cccc6c" stroke-width="1.35"/>
<text x="404.3" y="249.6" font-size="4.3" text-anchor="middle" fill="#303030" stroke="#303030" stroke-width="0.18" stroke-opacity="0.7">ATRIP</text>
<circle cx="369" cy="283" r="10.1" fill="#fefef6" stroke="#cccc6c" stroke-width="1.35"/>
<text x="369" y="284.6" font-size="4.3" text-anchor="middle" fill="#303030" stroke="#303030" stroke-width="0.18" stroke-opacity="0.7">ATM</text>
<circle cx="394" cy="271" r="10.1" fill="#fefef6" stroke="#cccc6c" stroke-width="1.35"/>
<text x="394" y="272.6" font-size="4.3" text-anchor="middle" fill="#303030" stroke="#303030" stroke-width="0.18" stroke-opacity="0.7">CLSPN</text>
<circle cx="364.5" cy="317.5" r="10.1" fill="#fefef6" stroke="#cccc6c" stroke-width="1.35"/>
<text x="364.5" y="319.1" font-size="4.3" text-anchor="middle" fill="#303030" stroke="#303030" stroke-width="0.18" stroke-opacity="0.7">H2AFX</text>
<circle cx="407.5" cy="328" r="10.1" fill="#fefef6" stroke="#cccc6c" stroke-width="1.35"/>
<text x="407.5" y="329.6" font-size="4.3" text-anchor="middle" fill="#303030" stroke="#303030" stroke-width="0.18" stroke-opacity="0.7">RAD51</text>
<circle cx="367.5" cy="348.75" r="10.1" fill="#fefef6" stroke="#cccc6c" stroke-width="1.35"/>
<text x="367.5" y="350.35" font-size="4.3" text-anchor="middle" fill="#303030" stroke="#303030" stroke-width="0.18" stroke-opacity="0.7">GADD45A</text>
<circle cx="458" cy="210" r="10.1" fill="#fefef6" stroke="#cccc6c" stroke-width="1.35"/>
<text x="458" y="211.6" font-size="4.3" text-anchor="middle" fill="#303030" stroke="#303030" stroke-width="0.18" stroke-opacity="0.7">FAAP100</text>
<circle cx="486" cy="221" r="10.1" fill="#fefef6" stroke="#cccc6c" stroke-width="1.35"/>
<text x="486" y="222.6" font-size="4.3" text-anchor="middle" fill="#303030" stroke="#303030" stroke-width="0.18" stroke-opacity="0.7">RMI1</text>
<circle cx="431" cy="242" r="10.1" fill="#fefef6" stroke="#cccc6c" stroke-width="1.35"/>
<text x="431" y="243.6" font-size="4.3" text-anchor="middle" fill="#303030" stroke="#303030" stroke-width="0.18" stroke-opacity="0.7">RAD9A</text>
<circle cx="462" cy="253.5" r="10.1" fill="#fefef6" stroke="#cccc6c" stroke-width="1.35"/>
<text x="462" y="255.1" font-size="4.3" text-anchor="middle" fill="#303030" stroke="#303030" stroke-width="0.18" stroke-opacity="0.7">RAD1</text>
<circle cx="490.5" cy="247" r="10.1" fill="#fefef6" stroke="#cccc6c" stroke-width="1.35"/>
<text x="490.5" y="248.6" font-size="4.3" text-anchor="middle" fill="#303030" stroke="#303030" stroke-width="0.18" stroke-opacity="0.7">FANCC</text>
<circle cx="413.8" cy="280" r="10.1" fill="#fefef6" stroke="#cccc6c" stroke-width="1.35"/>
<text x="413.8" y="281.6" font-size="4.3" text-anchor="middle" fill="#303030" stroke="#303030" stroke-width="0.18" stroke-opacity="0.7">ATR</text>
<circle cx="442" cy="277" r="10.1" fill="#fefef6" stroke="#cccc6c" stroke-width="1.35"/>
<text x="442" y="278.6" font-size="4.3" text-anchor="middle" fill="#303030" stroke="#303030" stroke-width="0.18" stroke-opacity="0.7">RPA1</text>
<circle cx="475.5" cy="277" r="10.1" fill="#fefef6" stroke="#cccc6c" stroke-width="1.35"/>
<text x="475.5" y="278.6" font-size="4.3" text-anchor="middle" fill="#303030" stroke="#303030" stroke-width="0.18" stroke-opacity="0.7">FANCG</text>
<circle cx="498.6" cy="286.2" r="10.1" fill="#fefef6" stroke="#cccc6c" stroke-width="1.35"/>
<text x="498.6" y="287.8" font-size="4.3" text-anchor="middle" fill="#303030" stroke="#303030" stroke-width="0.18" stroke-opacity="0.7">STRA13</text>
<circle cx="485" cy="308.5" r="10.1" fill="#fefef6" stroke="#cccc6c" stroke-width="1.35"/>
<text x="485" y="310.1" font-size="4.3" text-anchor="middle" fill="#303030" stroke="#303030" stroke-width="0.18" stroke-opacity="0.7">BRIP1</text>
<rect x="67.05" y="239.05" width="19.9" height="19.9" fill="#fff" stroke="#68995c" stroke-width="1.25"/>
<text x="77" y="250.6" font-size="4.3" text-anchor="middle" fill="#b03a55" stroke="#b03a55" stroke-width="0.18" stroke-opacity="0.7">BRAF</text>
<rect x="17.55" y="402.55" width="19.9" height="19.9" fill="#fff" stroke="#68995c" stroke-width="1.25"/>
<text x="27.5" y="414.1" font-size="4.3" text-anchor="middle" fill="#b03a55" stroke="#b03a55" stroke-width="0.18" stroke-opacity="0.7">DBNL</text>
<rect x="217.05" y="410.05" width="19.9" height="19.9" fill="#fff" stroke="#68995c" stroke-width="1.25"/>
<text x="227" y="421.6" font-size="4.3" text-anchor="middle" fill="#b03a55" stroke="#b03a55" stroke-width="0.18" stroke-opacity="0.7">CARD11</text>
<rect x="417.55" y="198.05" width="19.9" height="19.9" fill="#fff" stroke="#cccc6c" stroke-width="1.25"/>
<text x="427.5" y="209.6" font-size="4.3" text-anchor="middle" fill="#8a3a9a" stroke="#8a3a9a" stroke-width="0.18" stroke-opacity="0.7">HUS1</text>
<rect x="322.55" y="292.25" width="19.9" height="19.9" fill="#fff" stroke="#cccc6c" stroke-width="1.25"/>
<text x="332.5" y="303.8" font-size="4.3" text-anchor="middle" fill="#b03a55" stroke="#b03a55" stroke-width="0.18" stroke-opacity="0.7">MCM7</text>
<rect x="442.05" y="311.05" width="19.9" height="19.9" fill="#fff" stroke="#cccc6c" stroke-width="1.25"/>
<text x="452" y="322.6" font-size="4.3" text-anchor="middle" fill="#b03a55" stroke="#b03a55" stroke-width="0.18" stroke-opacity="0.7">RFC2</text>
<circle cx="395.7" cy="377.3" r="3.5" fill="#fff" stroke="#5d9a55" stroke-width="1.7"/>
<text x="404.2" y="380.3" font-size="8.2" fill="#1a1a1a">Immune response</text>
<circle cx="395.7" cy="391.7" r="3.5" fill="#fff" stroke="#c0509a" stroke-width="1.7"/>
<text x="404.2" y="394.7" font-size="8.2" fill="#1a1a1a">Apoptosis</text>
<circle cx="395.7" cy="406.1" r="3.5" fill="#fff" stroke="#d6d69a" stroke-width="1.7"/>
<text x="404.2" y="409.1" font-size="8.2" fill="#1a1a1a">DNA damage response</text>
<text x="120.5" y="497.4" font-size="9.9" font-weight="bold" text-anchor="middle" fill="#111">P4-CD38<tspan font-size="5.5" dy="-3.6">−</tspan><tspan dy="3.6"></tspan></text><path d="M60,638.6 C62.3,638.2 69.5,637.6 74.0,636.5 C78.5,635.4 83.0,634.2 87.0,632.0 C91.0,629.8 94.5,626.3 98.0,623.0 C101.5,619.7 104.8,614.8 108.0,612.0 C111.2,609.2 114.2,607.5 117.0,606.5 C119.8,605.5 122.0,605.6 125.0,606.0 C128.0,606.4 131.3,607.3 135.0,609.0 C138.7,610.7 142.7,613.8 147.0,616.0 C151.3,618.2 156.3,620.3 161.0,622.0 C165.7,623.7 170.5,624.8 175.0,626.0 C179.5,627.2 185.8,627.4 188.0,629.5 C190.2,631.6 188.2,637.1 188.3,638.6 L188.3,639.2 L60,639.2 Z" fill="#f0d6dc" stroke="none" style="mix-blend-mode:multiply"/><path d="M60,638.6 C62.3,638.2 69.5,637.6 74.0,636.5 C78.5,635.4 83.0,634.2 87.0,632.0 C91.0,629.8 94.5,626.3 98.0,623.0 C101.5,619.7 104.8,614.8 108.0,612.0 C111.2,609.2 114.2,607.5 117.0,606.5 C119.8,605.5 122.0,605.6 125.0,606.0 C128.0,606.4 131.3,607.3 135.0,609.0 C138.7,610.7 142.7,613.8 147.0,616.0 C151.3,618.2 156.3,620.3 161.0,622.0 C165.7,623.7 170.5,624.8 175.0,626.0 C179.5,627.2 185.8,627.4 188.0,629.5 C190.2,631.6 188.2,637.1 188.3,638.6" fill="none" stroke="rgba(160,90,110,0.5)" stroke-width="0.8"/><path d="M55,638.5 C57.5,638.0 65.5,636.9 70.0,635.5 C74.5,634.1 78.3,632.5 82.0,630.0 C85.7,627.5 89.0,623.8 92.0,620.5 C95.0,617.2 97.3,613.2 100.0,610.5 C102.7,607.8 105.7,605.7 108.0,604.5 C110.3,603.3 111.7,603.2 114.0,603.5 C116.3,603.8 118.7,604.8 122.0,606.5 C125.3,608.2 129.5,611.2 134.0,613.5 C138.5,615.8 144.2,618.7 149.0,620.5 C153.8,622.3 158.2,623.3 163.0,624.5 C167.8,625.7 173.8,626.5 178.0,627.5 C182.2,628.5 186.3,628.7 188.0,630.5 C189.7,632.3 188.2,637.2 188.3,638.5 L188.3,639.2 L55,639.2 Z" fill="#dcd6ee" stroke="none" style="mix-blend-mode:multiply"/><path d="M55,638.5 C57.5,638.0 65.5,636.9 70.0,635.5 C74.5,634.1 78.3,632.5 82.0,630.0 C85.7,627.5 89.0,623.8 92.0,620.5 C95.0,617.2 97.3,613.2 100.0,610.5 C102.7,607.8 105.7,605.7 108.0,604.5 C110.3,603.3 111.7,603.2 114.0,603.5 C116.3,603.8 118.7,604.8 122.0,606.5 C125.3,608.2 129.5,611.2 134.0,613.5 C138.5,615.8 144.2,618.7 149.0,620.5 C153.8,622.3 158.2,623.3 163.0,624.5 C167.8,625.7 173.8,626.5 178.0,627.5 C182.2,628.5 186.3,628.7 188.0,630.5 C189.7,632.3 188.2,637.2 188.3,638.5" fill="none" stroke="rgba(90,70,130,0.6)" stroke-width="0.8"/><rect x="81.6" y="614.6" width="5.4" height="24.6" fill="#e6b4b4" stroke="#c99096" stroke-width="0.6" style="mix-blend-mode:multiply"/><rect x="91.0" y="614.6" width="5.4" height="24.6" fill="#e6b4b4" stroke="#c99096" stroke-width="0.6" style="mix-blend-mode:multiply"/><rect x="96.4" y="614.6" width="4.0" height="24.6" fill="#e6b4b4" stroke="#c99096" stroke-width="0.6" style="mix-blend-mode:multiply"/><rect x="100.4" y="626.6" width="4.6" height="12.6" fill="#e6b4b4" stroke="#c99096" stroke-width="0.6" style="mix-blend-mode:multiply"/><rect x="105.0" y="591.0" width="4.6" height="48.2" fill="#e6b4b4" stroke="#c99096" stroke-width="0.6" style="mix-blend-mode:multiply"/><rect x="109.6" y="626.6" width="5.4" height="12.6" fill="#e6b4b4" stroke="#c99096" stroke-width="0.6" style="mix-blend-mode:multiply"/><rect x="115.0" y="579.0" width="5.0" height="60.2" fill="#e6b4b4" stroke="#c99096" stroke-width="0.6" style="mix-blend-mode:multiply"/><rect x="120.0" y="555.7" width="3.6" height="83.5" fill="#e6b4b4" stroke="#c99096" stroke-width="0.6" style="mix-blend-mode:multiply"/><rect x="123.6" y="567.5" width="4.8" height="71.7" fill="#e6b4b4" stroke="#c99096" stroke-width="0.6" style="mix-blend-mode:multiply"/><rect x="132.4" y="626.6" width="5.2" height="12.6" fill="#e6b4b4" stroke="#c99096" stroke-width="0.6" style="mix-blend-mode:multiply"/><rect x="137.6" y="626.6" width="4.0" height="12.6" fill="#e6b4b4" stroke="#c99096" stroke-width="0.6" style="mix-blend-mode:multiply"/><rect x="141.6" y="626.6" width="4.8" height="12.6" fill="#e6b4b4" stroke="#c99096" stroke-width="0.6" style="mix-blend-mode:multiply"/><rect x="146.4" y="591.0" width="5.2" height="48.2" fill="#e6b4b4" stroke="#c99096" stroke-width="0.6" style="mix-blend-mode:multiply"/><rect x="151.6" y="626.6" width="4.4" height="12.6" fill="#e6b4b4" stroke="#c99096" stroke-width="0.6" style="mix-blend-mode:multiply"/><rect x="160.4" y="626.6" width="4.0" height="12.6" fill="#e6b4b4" stroke="#c99096" stroke-width="0.6" style="mix-blend-mode:multiply"/><rect x="164.4" y="626.6" width="4.6" height="12.6" fill="#e6b4b4" stroke="#c99096" stroke-width="0.6" style="mix-blend-mode:multiply"/><rect x="169.0" y="602.6" width="5.0" height="36.6" fill="#e6b4b4" stroke="#c99096" stroke-width="0.6" style="mix-blend-mode:multiply"/><rect x="91.0" y="594.6" width="5.4" height="44.6" fill="#b0abd6" stroke="#8a84b8" stroke-width="0.6" style="mix-blend-mode:multiply"/><rect x="105.0" y="508.0" width="4.6" height="131.2" fill="#b0abd6" stroke="#8a84b8" stroke-width="0.6" style="mix-blend-mode:multiply"/><rect x="109.6" y="551.0" width="5.4" height="88.2" fill="#b0abd6" stroke="#8a84b8" stroke-width="0.6" style="mix-blend-mode:multiply"/><rect x="123.6" y="594.6" width="4.8" height="44.6" fill="#b0abd6" stroke="#8a84b8" stroke-width="0.6" style="mix-blend-mode:multiply"/><rect x="132.4" y="594.6" width="5.2" height="44.6" fill="#b0abd6" stroke="#8a84b8" stroke-width="0.6" style="mix-blend-mode:multiply"/><rect x="141.6" y="594.6" width="4.8" height="44.6" fill="#b0abd6" stroke="#8a84b8" stroke-width="0.6" style="mix-blend-mode:multiply"/><rect x="146.4" y="594.6" width="5.2" height="44.6" fill="#b0abd6" stroke="#8a84b8" stroke-width="0.6" style="mix-blend-mode:multiply"/><rect x="169.0" y="594.6" width="5.0" height="44.6" fill="#b0abd6" stroke="#8a84b8" stroke-width="0.6" style="mix-blend-mode:multiply"/><rect x="174.0" y="594.6" width="5.0" height="44.6" fill="#b0abd6" stroke="#8a84b8" stroke-width="0.6" style="mix-blend-mode:multiply"/>
<line x1="47.6" y1="501.5" x2="47.6" y2="646.2" stroke="#111" stroke-width="1.4"/><line x1="46.9" y1="645.5" x2="194" y2="645.5" stroke="#111" stroke-width="1.4"/><text x="74.5" y="655.2" font-size="8.6" text-anchor="middle" fill="#222" stroke="#222" stroke-width="0.2">4000</text><text x="115.6" y="655.2" font-size="8.6" text-anchor="middle" fill="#222" stroke="#222" stroke-width="0.2">8000</text><text x="156.5" y="655.2" font-size="8.6" text-anchor="middle" fill="#222" stroke="#222" stroke-width="0.2">12000</text>
<rect x="123.1" y="514.5" width="8.4" height="8.2" fill="#b0abd6" stroke="#8a84b8" stroke-width="0.5"/><text x="134.5" y="521.2" font-size="7.9" fill="#1a1a1a" stroke="#1a1a1a" stroke-width="0.15">Diploid cells</text><rect x="123.1" y="526.9" width="8.4" height="8.2" fill="#e6b4b4" stroke="#c99096" stroke-width="0.5"/><text x="134.5" y="533.6" font-size="7.9" fill="#1a1a1a" stroke="#1a1a1a" stroke-width="0.15">Mono 7 cells</text>
<text x="271.7" y="497.4" font-size="9.9" font-weight="bold" text-anchor="middle" fill="#111">P4-CD38<tspan font-size="5.5" dy="-3.6">+</tspan><tspan dy="3.6">/HSC</tspan></text><path d="M208,637.5 C209.7,636.8 214.3,634.9 218.0,633.0 C221.7,631.1 226.0,628.8 230.0,626.0 C234.0,623.2 238.3,618.8 242.0,616.0 C245.7,613.2 248.7,610.7 252.0,609.0 C255.3,607.3 258.7,606.5 262.0,606.0 C265.3,605.5 268.7,605.8 272.0,606.0 C275.3,606.2 278.7,606.8 282.0,607.0 C285.3,607.2 289.0,607.5 292.0,607.5 C295.0,607.5 297.7,607.0 300.0,607.0 C302.3,607.0 303.7,606.3 306.0,607.5 C308.3,608.7 311.0,610.9 314.0,614.0 C317.0,617.1 321.0,622.7 324.0,626.0 C327.0,629.3 329.5,631.9 332.0,634.0 C334.5,636.1 337.8,637.8 339.0,638.5 L339,639.2 L208,639.2 Z" fill="#f0d6dc" stroke="none" style="mix-blend-mode:multiply"/><path d="M208,637.5 C209.7,636.8 214.3,634.9 218.0,633.0 C221.7,631.1 226.0,628.8 230.0,626.0 C234.0,623.2 238.3,618.8 242.0,616.0 C245.7,613.2 248.7,610.7 252.0,609.0 C255.3,607.3 258.7,606.5 262.0,606.0 C265.3,605.5 268.7,605.8 272.0,606.0 C275.3,606.2 278.7,606.8 282.0,607.0 C285.3,607.2 289.0,607.5 292.0,607.5 C295.0,607.5 297.7,607.0 300.0,607.0 C302.3,607.0 303.7,606.3 306.0,607.5 C308.3,608.7 311.0,610.9 314.0,614.0 C317.0,617.1 321.0,622.7 324.0,626.0 C327.0,629.3 329.5,631.9 332.0,634.0 C334.5,636.1 337.8,637.8 339.0,638.5" fill="none" stroke="rgba(160,90,110,0.5)" stroke-width="0.8"/><path d="M206,633.5 C207.0,631.2 210.0,623.3 212.0,620.0 C214.0,616.7 216.2,614.8 218.0,613.5 C219.8,612.2 221.0,611.8 223.0,612.0 C225.0,612.2 227.5,614.2 230.0,615.0 C232.5,615.8 235.3,617.8 238.0,617.0 C240.7,616.2 243.3,613.2 246.0,610.0 C248.7,606.8 251.7,601.2 254.0,598.0 C256.3,594.8 258.3,592.4 260.0,591.0 C261.7,589.6 262.5,589.3 264.0,589.5 C265.5,589.7 266.8,589.8 269.0,592.0 C271.2,594.2 274.2,599.2 277.0,603.0 C279.8,606.8 282.8,611.7 286.0,615.0 C289.2,618.3 292.7,620.7 296.0,623.0 C299.3,625.3 302.7,627.2 306.0,629.0 C309.3,630.8 312.7,632.7 316.0,634.0 C319.3,635.3 323.2,636.2 326.0,637.0 C328.8,637.8 331.8,638.2 333.0,638.5 L333,639.2 L206,639.2 Z" fill="#dcd6ee" stroke="none" style="mix-blend-mode:multiply"/><path d="M206,633.5 C207.0,631.2 210.0,623.3 212.0,620.0 C214.0,616.7 216.2,614.8 218.0,613.5 C219.8,612.2 221.0,611.8 223.0,612.0 C225.0,612.2 227.5,614.2 230.0,615.0 C232.5,615.8 235.3,617.8 238.0,617.0 C240.7,616.2 243.3,613.2 246.0,610.0 C248.7,606.8 251.7,601.2 254.0,598.0 C256.3,594.8 258.3,592.4 260.0,591.0 C261.7,589.6 262.5,589.3 264.0,589.5 C265.5,589.7 266.8,589.8 269.0,592.0 C271.2,594.2 274.2,599.2 277.0,603.0 C279.8,606.8 282.8,611.7 286.0,615.0 C289.2,618.3 292.7,620.7 296.0,623.0 C299.3,625.3 302.7,627.2 306.0,629.0 C309.3,630.8 312.7,632.7 316.0,634.0 C319.3,635.3 323.2,636.2 326.0,637.0 C328.8,637.8 331.8,638.2 333.0,638.5" fill="none" stroke="rgba(90,70,130,0.6)" stroke-width="0.8"/><rect x="215.6" y="623.0" width="5.2" height="16.2" fill="#e6b4b4" stroke="#c99096" stroke-width="0.6" style="mix-blend-mode:multiply"/><rect x="220.8" y="623.0" width="4.4" height="16.2" fill="#e6b4b4" stroke="#c99096" stroke-width="0.6" style="mix-blend-mode:multiply"/><rect x="229.6" y="623.0" width="4.6" height="16.2" fill="#e6b4b4" stroke="#c99096" stroke-width="0.6" style="mix-blend-mode:multiply"/><rect x="234.2" y="608.0" width="5.0" height="31.2" fill="#e6b4b4" stroke="#c99096" stroke-width="0.6" style="mix-blend-mode:multiply"/><rect x="239.2" y="608.0" width="4.3" height="31.2" fill="#e6b4b4" stroke="#c99096" stroke-width="0.6" style="mix-blend-mode:multiply"/><rect x="243.5" y="623.0" width="4.2" height="16.2" fill="#e6b4b4" stroke="#c99096" stroke-width="0.6" style="mix-blend-mode:multiply"/><rect x="247.7" y="623.0" width="5.0" height="16.2" fill="#e6b4b4" stroke="#c99096" stroke-width="0.6" style="mix-blend-mode:multiply"/><rect x="252.7" y="591.7" width="4.2" height="47.5" fill="#e6b4b4" stroke="#c99096" stroke-width="0.6" style="mix-blend-mode:multiply"/><rect x="256.9" y="608.0" width="4.8" height="31.2" fill="#e6b4b4" stroke="#c99096" stroke-width="0.6" style="mix-blend-mode:multiply"/><rect x="261.7" y="623.0" width="4.5" height="16.2" fill="#e6b4b4" stroke="#c99096" stroke-width="0.6" style="mix-blend-mode:multiply"/><rect x="266.2" y="561.0" width="4.6" height="78.2" fill="#e6b4b4" stroke="#c99096" stroke-width="0.6" style="mix-blend-mode:multiply"/><rect x="270.8" y="608.0" width="4.4" height="31.2" fill="#e6b4b4" stroke="#c99096" stroke-width="0.6" style="mix-blend-mode:multiply"/><rect x="275.2" y="608.0" width="4.4" height="31.2" fill="#e6b4b4" stroke="#c99096" stroke-width="0.6" style="mix-blend-mode:multiply"/><rect x="279.6" y="623.0" width="4.2" height="16.2" fill="#e6b4b4" stroke="#c99096" stroke-width="0.6" style="mix-blend-mode:multiply"/><rect x="283.8" y="623.0" width="4.3" height="16.2" fill="#e6b4b4" stroke="#c99096" stroke-width="0.6" style="mix-blend-mode:multiply"/><rect x="288.1" y="623.0" width="5.7" height="16.2" fill="#e6b4b4" stroke="#c99096" stroke-width="0.6" style="mix-blend-mode:multiply"/><rect x="293.8" y="623.0" width="3.9" height="16.2" fill="#e6b4b4" stroke="#c99096" stroke-width="0.6" style="mix-blend-mode:multiply"/><rect x="297.7" y="608.0" width="4.8" height="31.2" fill="#e6b4b4" stroke="#c99096" stroke-width="0.6" style="mix-blend-mode:multiply"/><rect x="302.5" y="592.0" width="4.3" height="47.2" fill="#e6b4b4" stroke="#c99096" stroke-width="0.6" style="mix-blend-mode:multiply"/><rect x="306.8" y="608.0" width="4.2" height="31.2" fill="#e6b4b4" stroke="#c99096" stroke-width="0.6" style="mix-blend-mode:multiply"/><rect x="311.0" y="592.0" width="5.0" height="47.2" fill="#e6b4b4" stroke="#c99096" stroke-width="0.6" style="mix-blend-mode:multiply"/><rect x="316.0" y="623.0" width="4.3" height="16.2" fill="#e6b4b4" stroke="#c99096" stroke-width="0.6" style="mix-blend-mode:multiply"/><rect x="215.6" y="573.5" width="5.2" height="65.7" fill="#b0abd6" stroke="#8a84b8" stroke-width="0.6" style="mix-blend-mode:multiply"/><rect x="239.2" y="573.5" width="4.3" height="65.7" fill="#b0abd6" stroke="#8a84b8" stroke-width="0.6" style="mix-blend-mode:multiply"/><rect x="247.7" y="573.5" width="5.0" height="65.7" fill="#b0abd6" stroke="#8a84b8" stroke-width="0.6" style="mix-blend-mode:multiply"/><rect x="256.9" y="573.5" width="4.8" height="65.7" fill="#b0abd6" stroke="#8a84b8" stroke-width="0.6" style="mix-blend-mode:multiply"/><rect x="261.7" y="508.3" width="4.5" height="130.9" fill="#b0abd6" stroke="#8a84b8" stroke-width="0.6" style="mix-blend-mode:multiply"/><rect x="270.8" y="573.5" width="4.4" height="65.7" fill="#b0abd6" stroke="#8a84b8" stroke-width="0.6" style="mix-blend-mode:multiply"/><rect x="288.1" y="573.5" width="5.7" height="65.7" fill="#b0abd6" stroke="#8a84b8" stroke-width="0.6" style="mix-blend-mode:multiply"/>
<line x1="201" y1="501.5" x2="201" y2="646.2" stroke="#111" stroke-width="1.4"/><line x1="200.3" y1="645.5" x2="343.6" y2="645.5" stroke="#111" stroke-width="1.4"/><text x="227" y="655.2" font-size="8.6" text-anchor="middle" fill="#222" stroke="#222" stroke-width="0.2">4000</text><text x="268.4" y="655.2" font-size="8.6" text-anchor="middle" fill="#222" stroke="#222" stroke-width="0.2">8000</text><text x="309.3" y="655.2" font-size="8.6" text-anchor="middle" fill="#222" stroke="#222" stroke-width="0.2">12000</text>
<rect x="278.4" y="514.5" width="8.4" height="8.2" fill="#b0abd6" stroke="#8a84b8" stroke-width="0.5"/><text x="289.79999999999995" y="521.2" font-size="7.9" fill="#1a1a1a" stroke="#1a1a1a" stroke-width="0.15">Diploid cells</text><rect x="278.4" y="526.9" width="8.4" height="8.2" fill="#e6b4b4" stroke="#c99096" stroke-width="0.5"/><text x="289.79999999999995" y="533.6" font-size="7.9" fill="#1a1a1a" stroke="#1a1a1a" stroke-width="0.15">Mono 7 cells</text>
<text x="423" y="497.4" font-size="9.9" font-weight="bold" text-anchor="middle" fill="#111">P4-CD38<tspan font-size="5.5" dy="-3.6">+</tspan><tspan dy="3.6">/MEP</tspan></text><path d="M372,638.6 C374.3,638.4 382.0,638.3 386.0,637.5 C390.0,636.7 393.0,635.4 396.0,634.0 C399.0,632.6 401.0,631.3 404.0,629.0 C407.0,626.7 410.7,624.2 414.0,620.0 C417.3,615.8 420.7,609.0 424.0,604.0 C427.3,599.0 430.7,594.0 434.0,590.0 C437.3,586.0 441.3,582.0 444.0,580.0 C446.7,578.0 447.7,577.3 450.0,578.0 C452.3,578.7 455.3,581.0 458.0,584.0 C460.7,587.0 463.3,591.7 466.0,596.0 C468.7,600.3 471.3,605.3 474.0,610.0 C476.7,614.7 479.5,620.0 482.0,624.0 C484.5,628.0 487.8,632.3 489.0,634.0 L489,639.2 L372,639.2 Z" fill="#f0d6dc" stroke="none" style="mix-blend-mode:multiply"/><path d="M372,638.6 C374.3,638.4 382.0,638.3 386.0,637.5 C390.0,636.7 393.0,635.4 396.0,634.0 C399.0,632.6 401.0,631.3 404.0,629.0 C407.0,626.7 410.7,624.2 414.0,620.0 C417.3,615.8 420.7,609.0 424.0,604.0 C427.3,599.0 430.7,594.0 434.0,590.0 C437.3,586.0 441.3,582.0 444.0,580.0 C446.7,578.0 447.7,577.3 450.0,578.0 C452.3,578.7 455.3,581.0 458.0,584.0 C460.7,587.0 463.3,591.7 466.0,596.0 C468.7,600.3 471.3,605.3 474.0,610.0 C476.7,614.7 479.5,620.0 482.0,624.0 C484.5,628.0 487.8,632.3 489.0,634.0" fill="none" stroke="rgba(160,90,110,0.5)" stroke-width="0.8"/><path d="M355,632.5 C356.0,632.5 358.3,631.7 361.0,632.2 C363.7,632.7 366.8,635.5 371.0,635.5 C375.2,635.5 382.2,632.6 386.0,632.3 C389.8,631.9 391.2,634.4 394.0,633.4 C396.8,632.4 400.0,630.7 403.0,626.0 C406.0,621.3 409.5,611.3 412.0,605.0 C414.5,598.7 416.0,592.1 418.0,588.0 C420.0,583.9 422.0,581.2 424.0,580.5 C426.0,579.8 427.7,581.1 430.0,584.0 C432.3,586.9 435.3,594.0 438.0,598.0 C440.7,602.0 443.0,605.5 446.0,608.0 C449.0,610.5 452.7,611.3 456.0,613.0 C459.3,614.7 462.7,616.0 466.0,618.0 C469.3,620.0 473.0,622.7 476.0,625.0 C479.0,627.3 481.8,630.2 484.0,632.0 C486.2,633.8 488.2,635.3 489.0,636.0 L489,639.2 L355,639.2 Z" fill="#dcd6ee" stroke="none" style="mix-blend-mode:multiply"/><path d="M355,632.5 C356.0,632.5 358.3,631.7 361.0,632.2 C363.7,632.7 366.8,635.5 371.0,635.5 C375.2,635.5 382.2,632.6 386.0,632.3 C389.8,631.9 391.2,634.4 394.0,633.4 C396.8,632.4 400.0,630.7 403.0,626.0 C406.0,621.3 409.5,611.3 412.0,605.0 C414.5,598.7 416.0,592.1 418.0,588.0 C420.0,583.9 422.0,581.2 424.0,580.5 C426.0,579.8 427.7,581.1 430.0,584.0 C432.3,586.9 435.3,594.0 438.0,598.0 C440.7,602.0 443.0,605.5 446.0,608.0 C449.0,610.5 452.7,611.3 456.0,613.0 C459.3,614.7 462.7,616.0 466.0,618.0 C469.3,620.0 473.0,622.7 476.0,625.0 C479.0,627.3 481.8,630.2 484.0,632.0 C486.2,633.8 488.2,635.3 489.0,636.0" fill="none" stroke="rgba(90,70,130,0.6)" stroke-width="0.8"/><rect x="375.7" y="623.0" width="4.7" height="16.2" fill="#e6b4b4" stroke="#c99096" stroke-width="0.6" style="mix-blend-mode:multiply"/><rect x="398.2" y="607.4" width="4.9" height="31.8" fill="#e6b4b4" stroke="#c99096" stroke-width="0.6" style="mix-blend-mode:multiply"/><rect x="407.3" y="623.6" width="4.8" height="15.6" fill="#e6b4b4" stroke="#c99096" stroke-width="0.6" style="mix-blend-mode:multiply"/><rect x="412.1" y="623.6" width="4.2" height="15.6" fill="#e6b4b4" stroke="#c99096" stroke-width="0.6" style="mix-blend-mode:multiply"/><rect x="416.3" y="607.4" width="4.3" height="31.8" fill="#e6b4b4" stroke="#c99096" stroke-width="0.6" style="mix-blend-mode:multiply"/><rect x="429.6" y="560.0" width="5.0" height="79.2" fill="#e6b4b4" stroke="#c99096" stroke-width="0.6" style="mix-blend-mode:multiply"/><rect x="434.6" y="592.0" width="4.5" height="47.2" fill="#e6b4b4" stroke="#c99096" stroke-width="0.6" style="mix-blend-mode:multiply"/><rect x="439.1" y="607.4" width="4.5" height="31.8" fill="#e6b4b4" stroke="#c99096" stroke-width="0.6" style="mix-blend-mode:multiply"/><rect x="443.6" y="528.6" width="4.6" height="110.6" fill="#e6b4b4" stroke="#c99096" stroke-width="0.6" style="mix-blend-mode:multiply"/><rect x="448.2" y="592.0" width="4.1" height="47.2" fill="#e6b4b4" stroke="#c99096" stroke-width="0.6" style="mix-blend-mode:multiply"/><rect x="452.3" y="576.2" width="4.9" height="63.0" fill="#e6b4b4" stroke="#c99096" stroke-width="0.6" style="mix-blend-mode:multiply"/><rect x="457.2" y="592.0" width="4.5" height="47.2" fill="#e6b4b4" stroke="#c99096" stroke-width="0.6" style="mix-blend-mode:multiply"/><rect x="466.2" y="607.4" width="4.5" height="31.8" fill="#e6b4b4" stroke="#c99096" stroke-width="0.6" style="mix-blend-mode:multiply"/><rect x="475.2" y="592.0" width="4.5" height="47.2" fill="#e6b4b4" stroke="#c99096" stroke-width="0.6" style="mix-blend-mode:multiply"/><rect x="357.5" y="607.0" width="4.7" height="32.2" fill="#b0abd6" stroke="#8a84b8" stroke-width="0.6" style="mix-blend-mode:multiply"/><rect x="384.7" y="607.0" width="4.9" height="32.2" fill="#b0abd6" stroke="#8a84b8" stroke-width="0.6" style="mix-blend-mode:multiply"/><rect x="407.3" y="607.4" width="4.8" height="31.8" fill="#b0abd6" stroke="#8a84b8" stroke-width="0.6" style="mix-blend-mode:multiply"/><rect x="416.3" y="574.0" width="4.3" height="65.2" fill="#b0abd6" stroke="#8a84b8" stroke-width="0.6" style="mix-blend-mode:multiply"/><rect x="420.6" y="509.6" width="4.7" height="129.6" fill="#b0abd6" stroke="#8a84b8" stroke-width="0.6" style="mix-blend-mode:multiply"/><rect x="429.6" y="542.5" width="5.0" height="96.7" fill="#b0abd6" stroke="#8a84b8" stroke-width="0.6" style="mix-blend-mode:multiply"/><rect x="434.6" y="607.4" width="4.5" height="31.8" fill="#b0abd6" stroke="#8a84b8" stroke-width="0.6" style="mix-blend-mode:multiply"/><rect x="439.1" y="574.0" width="4.5" height="65.2" fill="#b0abd6" stroke="#8a84b8" stroke-width="0.6" style="mix-blend-mode:multiply"/><rect x="452.3" y="607.4" width="4.9" height="31.8" fill="#b0abd6" stroke="#8a84b8" stroke-width="0.6" style="mix-blend-mode:multiply"/><rect x="457.2" y="607.4" width="4.5" height="31.8" fill="#b0abd6" stroke="#8a84b8" stroke-width="0.6" style="mix-blend-mode:multiply"/><rect x="461.7" y="607.4" width="4.5" height="31.8" fill="#b0abd6" stroke="#8a84b8" stroke-width="0.6" style="mix-blend-mode:multiply"/><rect x="475.2" y="607.4" width="4.5" height="31.8" fill="#b0abd6" stroke="#8a84b8" stroke-width="0.6" style="mix-blend-mode:multiply"/>
<line x1="351.4" y1="501.5" x2="351.4" y2="646.2" stroke="#111" stroke-width="1.4"/><line x1="350.7" y1="645.5" x2="495" y2="645.5" stroke="#111" stroke-width="1.4"/><text x="378.8" y="655.2" font-size="8.6" text-anchor="middle" fill="#222" stroke="#222" stroke-width="0.2">4000</text><text x="421.3" y="655.2" font-size="8.6" text-anchor="middle" fill="#222" stroke="#222" stroke-width="0.2">8000</text><text x="462.8" y="655.2" font-size="8.6" text-anchor="middle" fill="#222" stroke="#222" stroke-width="0.2">12000</text>
<rect x="356.6" y="514.5" width="8.4" height="8.2" fill="#b0abd6" stroke="#8a84b8" stroke-width="0.5"/><text x="368.0" y="521.2" font-size="7.9" fill="#1a1a1a" stroke="#1a1a1a" stroke-width="0.15">Diploid cells</text><rect x="356.6" y="526.9" width="8.4" height="8.2" fill="#e6b4b4" stroke="#c99096" stroke-width="0.5"/><text x="368.0" y="533.6" font-size="7.9" fill="#1a1a1a" stroke="#1a1a1a" stroke-width="0.15">Mono 7 cells</text>
<text x="273" y="669.4" font-size="10.6" text-anchor="middle" fill="#222" stroke="#222" stroke-width="0.2" textLength="81.5" lengthAdjust="spacingAndGlyphs">Number of SNPs/cell</text>
<text transform="translate(42,573.5) rotate(-90)" font-size="10.2" text-anchor="middle" fill="#222" stroke="#222" stroke-width="0.2" textLength="38.5" lengthAdjust="spacingAndGlyphs">Frequency</text>
<rect x="0" y="0" width="1.4" height="677" fill="#000"/>
<rect x="0" y="0" width="520" height="1.2" fill="#000"/>
<rect x="518.2" y="0" width="1.8" height="677" fill="#000"/>
<rect x="0" y="675" width="520" height="2" fill="#000"/>
</svg></body></html>
